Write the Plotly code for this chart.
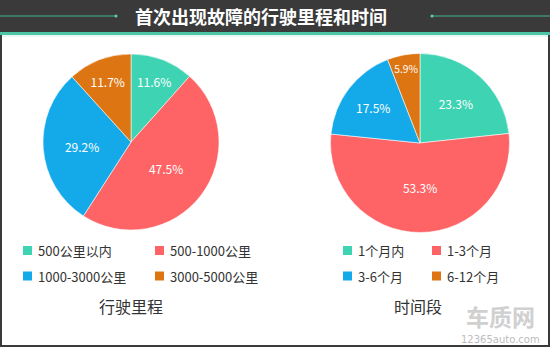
import plotly.graph_objects as go

W, H = 550, 347

# Share of first failures by mileage and by time since purchase (%)
mileage_labels = ["500公里以内", "500-1000公里", "1000-3000公里", "3000-5000公里"]
mileage_share = [11.6, 47.5, 29.2, 11.7]
period_labels = ["1个月内", "1-3个月", "3-6个月", "6-12个月"]
period_share = [23.3, 53.3, 17.5, 5.9]
slice_colors = ["#3dd3b3", "#fe6466", "#14aaea", "#dd7512"]

title_text = "首次出现故障的行驶里程和时间"
pie_titles = ["行驶里程", "时间段"]

CJK = "Noto Sans CJK SC"


def fx(x):
    return x / W


def fy(y):
    return 1 - y / H


def make_pie(labels, values, cx, cy, r, name):
    return go.Pie(
        labels=labels,
        values=values,
        name=name,
        sort=False,
        direction="clockwise",
        rotation=0,
        marker=dict(colors=slice_colors, line=dict(color="rgba(255,255,255,0.7)", width=0.8)),
        texttemplate="%{value:.1f}%",
        textposition="inside",
        insidetextorientation="horizontal",
        textfont=dict(color="white", size=12, family=CJK),
        domain=dict(x=[fx(cx - r), fx(cx + r)], y=[fy(cy + r), fy(cy - r)]),
        hovertemplate="%{label}: %{value}%<extra></extra>",
        showlegend=False,
    )


fig = go.Figure()
fig.add_trace(make_pie(mileage_labels, mileage_share, 131, 142, 88, pie_titles[0]))
fig.add_trace(make_pie(period_labels, period_share, 420, 143, 89.5, pie_titles[1]))

shapes = []
annotations = []


def rect(x0, y0, x1, y1, color):
    shapes.append(dict(type="rect", xref="paper", yref="paper",
                       x0=fx(x0), x1=fx(x1), y0=fy(y1), y1=fy(y0),
                       fillcolor=color, line=dict(width=0), layer="below"))


def line(x0, y0, x1, y1, color, width=1):
    shapes.append(dict(type="line", xref="paper", yref="paper",
                       x0=fx(x0), x1=fx(x1), y0=fy(y0), y1=fy(y1),
                       line=dict(color=color, width=width)))


def text(x, y, s, size, color, xanchor="center", family=CJK):
    annotations.append(dict(xref="paper", yref="paper", x=fx(x), y=fy(y), text=s,
                            showarrow=False, xanchor=xanchor, yanchor="middle",
                            font=dict(size=size, color=color, family=family)))


# header band
rect(0, 0, W, 32, "#3a3a3a")
rect(0, 32, W, 35, "#4dc6a6")
rect(0, 35, W, 37, "#e9f8f4")
line(0, 16, 116, 16, "#45b395", 1)
line(432, 16, W, 16, "#45b395", 1)
for dx in (116, 432):
    shapes.append(dict(type="circle", xref="paper", yref="paper",
                       x0=fx(dx - 1.5), x1=fx(dx + 1.5), y0=fy(17.5), y1=fy(14.5),
                       fillcolor="#5fd0b0", line=dict(width=0)))
text(261, 16, "<b>" + title_text + "</b>", 18, "white")

# frame
rect(0, 35, 2, H, "#3a3a3a")
rect(W - 2, 35, W, H, "#3a3a3a")
rect(0, H - 2, W, H, "#3a3a3a")

# legends, two columns per pie
row_y = [250.5, 276]
legend_cols = [(mileage_labels, (23, 155)), (period_labels, (343, 432))]
for labels, cols in legend_cols:
    for i, lab in enumerate(labels):
        x0 = cols[i % 2]
        yc = row_y[i // 2]
        rect(x0, yc - 4.5, x0 + 9, yc + 4.5, slice_colors[i])
        text(x0 + 13, yc, lab, 13, "#333333", xanchor="left")

# pie captions
text(131, 306, pie_titles[0], 16, "#333333")
text(418, 306, pie_titles[1], 16, "#333333")

# site mark
text(500, 316, "<b>车质网</b>", 23, "#d0d0d0")
text(500, 339.5, "12365auto.com", 10, "#bdbdbd", family="DejaVu Sans")

fig.update_layout(
    width=W,
    height=H,
    margin=dict(l=0, r=0, t=0, b=0),
    paper_bgcolor="white",
    plot_bgcolor="white",
    showlegend=False,
    shapes=shapes,
    annotations=annotations,
)

fig.write_html("out.html")
